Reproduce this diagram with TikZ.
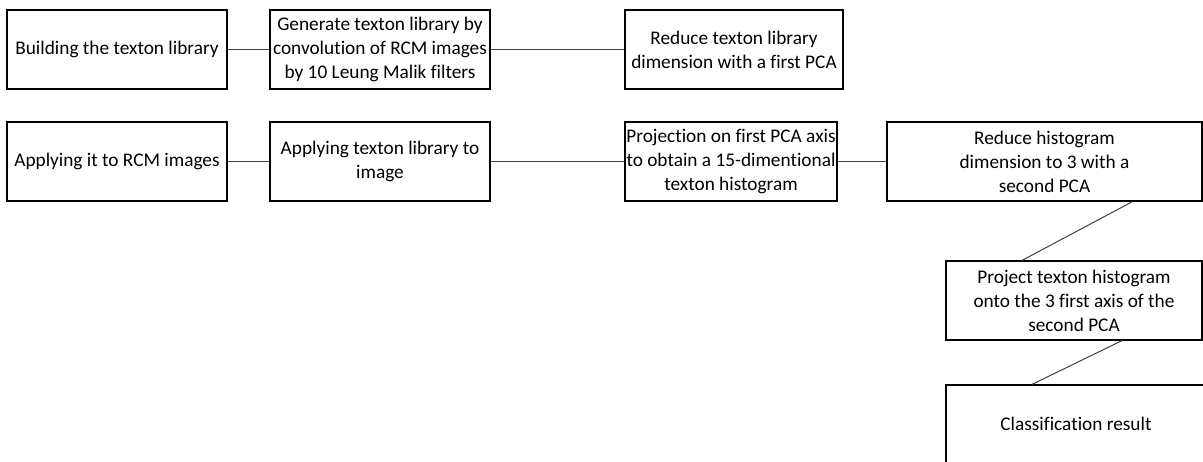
\documentclass[tikz,border=0pt]{standalone}
\usepackage{fontspec}
\setmainfont[Ligatures={NoCommon}]{Carlito}
\begin{document}
\begin{tikzpicture}[x=1pt,y=-1pt,
  box/.style={draw=black,line width=1.2pt,fill=white,align=center,inner sep=1pt,
    font=\fontsize{19.3}{24}\selectfont},
  conn/.style={draw=black!75,line width=1pt}]
\useasboundingbox (0,0) rectangle (1203,461);
\clip (0,0) rectangle (1203,461);
\node[box,minimum width=220pt,minimum height=79pt] (b1) at (117,49.5) {Building the texton library};
\node[box,minimum width=220pt,minimum height=79pt] (b2) at (380,49.5) {Generate texton library by\\convolution of RCM images\\by 10 Leung Malik filters};
\node[box,minimum width=218pt,minimum height=79pt] (b3) at (734,49.5) {Reduce texton library\\dimension with a first PCA};
\node[box,minimum width=220pt,minimum height=79pt] (b4) at (117,161.5) {Applying it to RCM images};
\node[box,minimum width=220pt,minimum height=79pt] (b5) at (380,161.5) {Applying texton library to\\image};
\node[box,minimum width=212pt,minimum height=79pt] (b6) at (731,161.5) {Projection on first PCA axis\\to obtain a 15-dimentional\\texton histogram};
\node[box,minimum width=315pt,minimum height=79pt] (b7) at (1044.5,161.5) {Reduce histogram\\dimension to 3 with a\\second PCA};
\node[box,minimum width=256pt,minimum height=79pt] (b8) at (1074,300.5) {Project texton histogram\\onto the 3 first axis of the\\second PCA};
\node[box,minimum width=260pt,minimum height=78pt] (b9) at (1076,424) {Classification result};
\draw[conn] (b1.east) -- (b2.west);
\draw[conn] (b2.east) -- (b3.west);
\draw[conn] (b4.east) -- (b5.west);
\draw[conn] (b5.east) -- (b6.west);
\draw[conn] (b6.east) -- (b7.west);
\draw[conn] ([xshift=88pt]b7.south) -- ([xshift=-52pt]b8.north);
\draw[conn] ([xshift=48pt]b8.south) -- ([xshift=-44pt]b9.north);
\end{tikzpicture}
\end{document}
